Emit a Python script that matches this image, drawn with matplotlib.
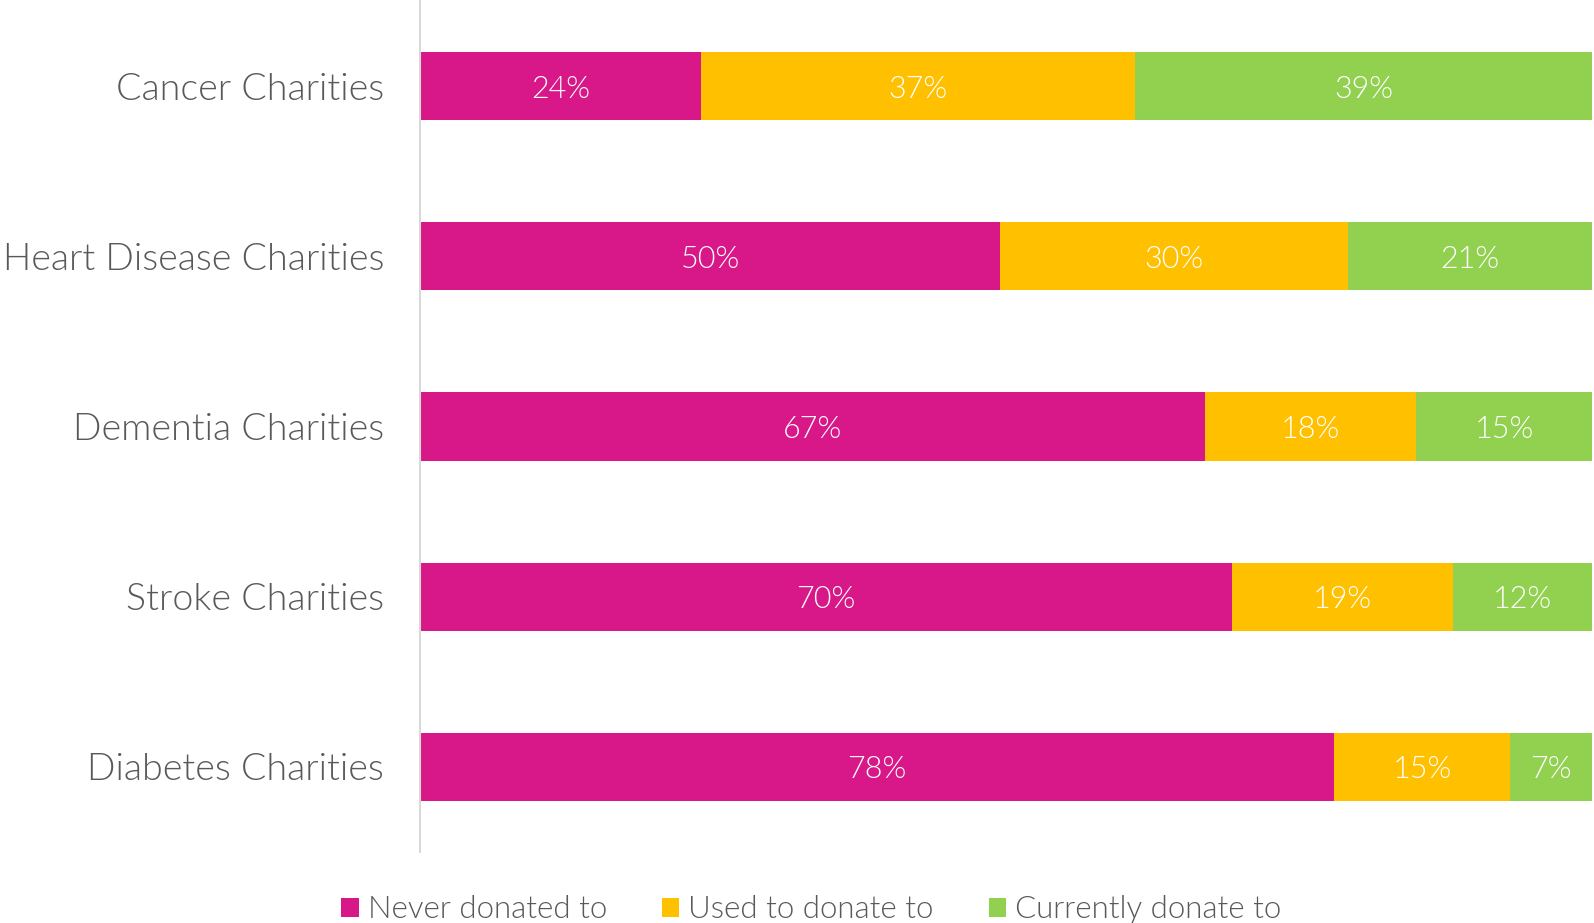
import numpy as np
import matplotlib
matplotlib.use("Agg")
from matplotlib import pyplot as plt

categories = ["Cancer Charities", "Heart Disease Charities", "Dementia Charities",
              "Stroke Charities", "Diabetes Charities"]
never = [24, 50, 67, 70, 78]
used = [37, 30, 18, 19, 15]
current = [39, 21, 15, 12, 7]
series_names = ["Never donated to", "Used to donate to", "Currently donate to"]
colors = ["#d81889", "#ffc000", "#92d050"]

plt.rcParams["font.family"] = ["Lato", "DejaVu Sans"]
plt.rcParams["font.weight"] = 300

fig = plt.figure(figsize=(15.94, 9.23), dpi=100)
ax = fig.add_axes([420 / 1594, 71 / 923, 1172 / 1594, 851 / 923])

raw = np.array([never, used, current], dtype=float)
shares = raw / raw.sum(axis=0) * 100
y = np.arange(len(categories))
left = np.zeros(len(categories))
for i in range(3):
    ax.barh(y, shares[i], left=left, height=0.4, color=colors[i], label=series_names[i])
    for j in range(len(categories)):
        ax.text(left[j] + shares[i][j] / 2, y[j], f"{int(raw[i][j])}%", ha="center",
                va="center_baseline", color="white", fontsize=22, fontweight=300)
    left += shares[i]

ax.set_xlim(0, 100)
ax.set_ylim(4.5, -0.5)
ax.set_yticks(y)
ax.set_yticklabels(categories, fontsize=27, color="#595959", fontweight=300)
ax.tick_params(axis="y", length=0, pad=26)
ax.set_xticks([])
for s in ["top", "right", "bottom"]:
    ax.spines[s].set_visible(False)
ax.spines["left"].set_color("#d9d9d9")
ax.spines["left"].set_linewidth(1.5)

leg = fig.legend(loc="center", bbox_to_anchor=(0.509, 13 / 923), ncol=3, frameon=False,
                 fontsize=22.5, handlelength=0.55, handleheight=0.55, handletextpad=0.3,
                 columnspacing=1.75, borderaxespad=0)
for t in leg.get_texts():
    t.set_color("#595959")

fig.savefig("out.png", dpi=100)
